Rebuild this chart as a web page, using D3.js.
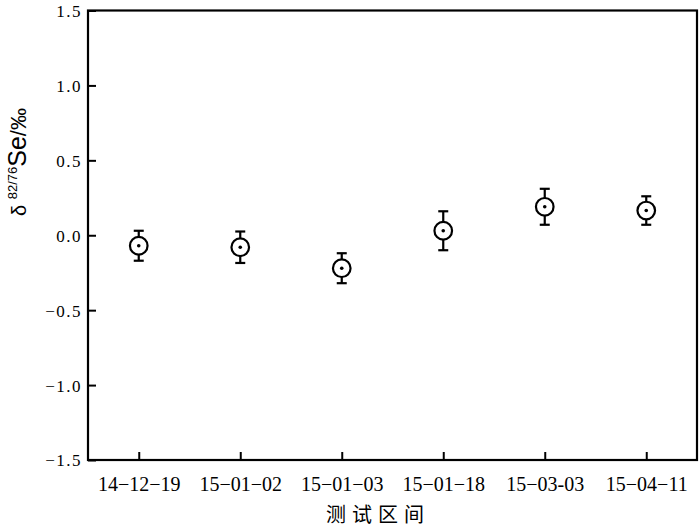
<!DOCTYPE html>
<html>
<head>
<meta charset="utf-8">
<script src="https://cdn.jsdelivr.net/npm/d3@7"></script>
<style>
    body { margin: 0; background: #fff; }
    svg { display: block; }
    .serif { font-family: "Liberation Serif", "Times New Roman", "DejaVu Serif", serif; }
</style>
</head>
<body>
<div id="chart"></div>
<script>
// 测试区间 / δ82/76Se 数据
const categories = ["14−12−19", "15−01−02", "15−01−03", "15−01−18", "15−03-03", "15−04−11"];
const values = [-0.07, -0.08, -0.22, 0.03, 0.19, 0.165];
const errors = [0.10, 0.105, 0.10, 0.13, 0.12, 0.095];
const yTicks = [-1.5, -1.0, -0.5, 0.0, 0.5, 1.0, 1.5];

const width = 700, height = 530;
const margin = { top: 10.5, right: 3, bottom: 70, left: 88 };
const serif = '"Liberation Serif", "Times New Roman", "DejaVu Serif", serif';

const svg = d3.select("#chart").append("svg")
    .attr("width", width)
    .attr("height", height);

const x = d3.scalePoint()
    .domain(categories)
    .range([margin.left, width - margin.right])
    .padding(0.5);

const y = d3.scaleLinear()
    .domain([-1.5, 1.5])
    .range([height - margin.bottom, margin.top]);

const fmt = d => (d < 0 ? "−" : "") + Math.abs(d).toFixed(1);

// 左轴
const yAxis = svg.append("g")
    .attr("transform", `translate(${margin.left},0)`)
    .call(d3.axisRight(y).tickValues(yTicks).tickSize(8).tickFormat(fmt))
    .attr("font-family", serif)
    .attr("font-size", 17);
yAxis.select(".domain").remove();
yAxis.selectAll(".tick line").attr("stroke", "#000").attr("stroke-width", 2);
yAxis.selectAll(".tick text")
    .attr("class", "serif")
    .attr("x", -6)
    .attr("dy", "0.35em")
    .attr("text-anchor", "end")
    .style("letter-spacing", "1.5px")
    .attr("fill", "#000");

// 下轴
const xAxis = svg.append("g")
    .attr("transform", `translate(0,${y(-1.5)})`)
    .call(d3.axisTop(x).tickSize(8).tickFormat(d => d))
    .attr("font-family", serif)
    .attr("font-size", 20);
xAxis.select(".domain").remove();
xAxis.selectAll(".tick line").attr("stroke", "#000").attr("stroke-width", 2);
xAxis.selectAll(".tick text")
    .attr("class", "serif")
    .attr("y", 31)
    .attr("dy", 0)
    .attr("fill", "#000");

// 边框
svg.append("rect")
    .attr("x", margin.left)
    .attr("y", y(1.5))
    .attr("width", width - margin.right - margin.left)
    .attr("height", y(-1.5) - y(1.5))
    .attr("fill", "none")
    .attr("stroke", "#000")
    .attr("stroke-width", 2.2);

// 误差棒
const pts = categories.map((c, i) => ({ c, v: values[i], e: errors[i] }));
const g = svg.append("g");

g.selectAll(".bar")
    .data(pts)
    .enter().append("line")
    .attr("x1", d => x(d.c))
    .attr("x2", d => x(d.c))
    .attr("y1", d => y(d.v + d.e))
    .attr("y2", d => y(d.v - d.e))
    .attr("stroke", "#000")
    .attr("stroke-width", 2.2);

["top", "bottom"].forEach(side => {
    g.selectAll(".cap-" + side)
        .data(pts)
        .enter().append("line")
        .attr("x1", d => x(d.c) - 5)
        .attr("x2", d => x(d.c) + 5)
        .attr("y1", d => y(side === "top" ? d.v + d.e : d.v - d.e))
        .attr("y2", d => y(side === "top" ? d.v + d.e : d.v - d.e))
        .attr("stroke", "#000")
        .attr("stroke-width", 2.2);
});

g.selectAll(".pt")
    .data(pts)
    .enter().append("circle")
    .attr("cx", d => x(d.c))
    .attr("cy", d => y(d.v))
    .attr("r", 8.8)
    .attr("fill", "#fff")
    .attr("stroke", "#000")
    .attr("stroke-width", 2.2);

g.selectAll(".dot")
    .data(pts)
    .enter().append("circle")
    .attr("cx", d => x(d.c))
    .attr("cy", d => y(d.v))
    .attr("r", 1.8)
    .attr("fill", "#000");

// 轴标题
svg.append("text")
    .attr("x", 378)
    .attr("y", 522)
    .attr("text-anchor", "middle")
    .attr("font-family", "'Noto Sans CJK SC', sans-serif")
    .attr("font-size", 20)
    .style("letter-spacing", "6px")
    .attr("fill", "#000")
    .text("测试区间");

const yt = svg.append("text")
    .attr("transform", "translate(26,162) rotate(-90)")
    .attr("text-anchor", "middle")
    .attr("font-family", "'Liberation Sans', Arial, sans-serif")
    .attr("fill", "#000");
yt.append("tspan").attr("font-size", 20).text("δ ");
yt.append("tspan").attr("font-size", 13).attr("dy", -9).text("82/76");
yt.append("tspan").attr("font-size", 25).attr("dy", 9).text("Se");
yt.append("tspan").attr("font-size", 22).text("/‰");
</script>
</body>
</html>
